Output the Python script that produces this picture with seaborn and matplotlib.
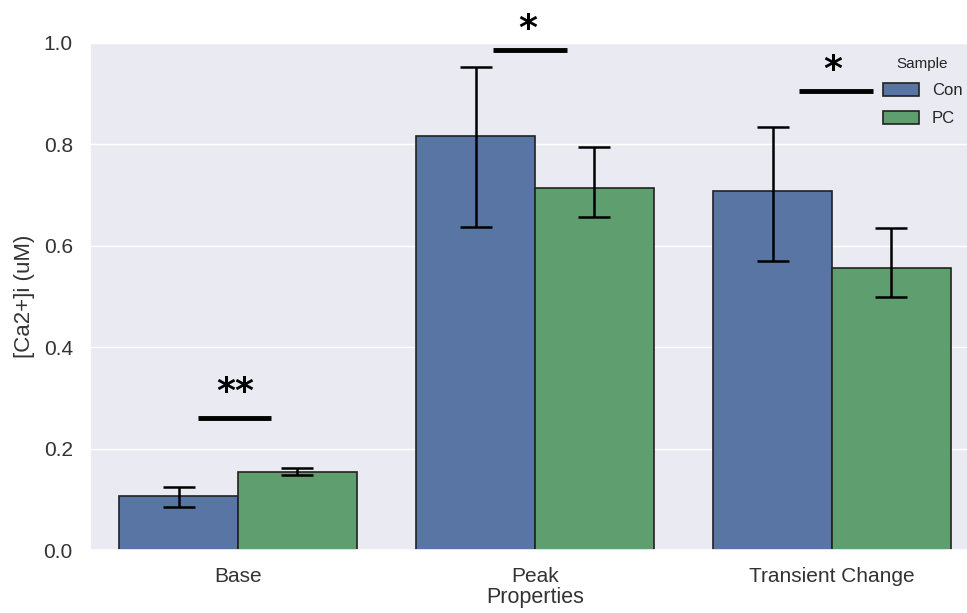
import numpy as np
import pandas as pd
import matplotlib
matplotlib.use("Agg")
import matplotlib.pyplot as plt
import seaborn as sns

# values
properties = ["Base", "Peak", "Transient Change"]
samples = ["Con", "PC"]
con_mean = [0.107, 0.817, 0.708]
pc_mean = [0.154, 0.714, 0.556]
con_low = [0.085, 0.637, 0.570]
con_high = [0.124, 0.953, 0.834]
pc_low = [0.148, 0.657, 0.499]
pc_high = [0.162, 0.795, 0.635]

# significance marks per category
sig_labels = ["**", "*", "*"]
sig_line_y = [0.260, 0.986, 0.905]
sig_star_y = [0.278, 0.994, 0.913]
sig_x0 = [-0.135, -0.141, -0.111]
sig_x1 = [0.111, 0.108, 0.138]
sig_star_dx = [-0.01, -0.025, 0.003]

df = pd.DataFrame({
    "Properties": properties * 2,
    "Sample": ["Con"] * 3 + ["PC"] * 3,
    "value": con_mean + pc_mean,
})

sns.set_theme(style="darkgrid")
plt.rcParams["font.family"] = ["Liberation Sans", "DejaVu Sans"]

fig = plt.figure(figsize=(9.67, 6.13), dpi=100)
# axes runs past the right edge like the cropped original
ax = fig.add_axes([89.5 / 967, 1 - 550 / 613, 891 / 967, 507 / 613])

sns.barplot(data=df, x="Properties", y="value", hue="Sample", order=properties,
            hue_order=samples, palette=["#4C72B0", "#55A868"], saturation=0.75,
            errorbar=None, edgecolor="#222222", linewidth=1.2, ax=ax)

# error bars at the bar centres seaborn produced
lows = [con_low, pc_low]
highs = [con_high, pc_high]
for cont, lo, hi in zip(ax.containers, lows, highs):
    xs = [p.get_x() + p.get_width() / 2 for p in cont.patches]
    hs = [p.get_height() for p in cont.patches]
    yerr = [np.array(hs) - np.array(lo), np.array(hi) - np.array(hs)]
    ax.errorbar(xs, hs, yerr=yerr, fmt="none", ecolor="black", elinewidth=1.8,
                capsize=11.5, capthick=1.8, zorder=5)

for i in range(3):
    ax.plot([i + sig_x0[i], i + sig_x1[i]], [sig_line_y[i]] * 2, color="black",
            lw=3.5, clip_on=False, solid_capstyle="butt")
    ax.text(i + sig_star_dx[i], sig_star_y[i], sig_labels[i], ha="center", va="bottom",
            fontsize=26, fontweight="bold", color="black", clip_on=False,
            family=["DejaVu Sans"])

ax.set_ylim(0, 1.0)
ax.set_xlim(-0.5, 2.5)
ax.set_yticks([0.0, 0.2, 0.4, 0.6, 0.8, 1.0])
ax.set_yticklabels(["0.0", "0.2", "0.4", "0.6", "0.8", "1.0"])
ax.tick_params(labelsize=15, colors="#333333", pad=6)
ax.set_xlabel("Properties", fontsize=15.5, color="#333333", labelpad=1)
ax.set_ylabel("[Ca2+]i (uM)", fontsize=16, color="#333333", labelpad=6)

ax.legend(title="Sample", loc="upper left", bbox_to_anchor=(876 / 967, 1 - 50 / 613),
          bbox_transform=fig.transFigure, frameon=False, fontsize=12,
          title_fontsize=11, handlelength=2.15, handleheight=0.8,
          labelspacing=0.75, borderaxespad=0)

fig.savefig("out.png", dpi=100)
